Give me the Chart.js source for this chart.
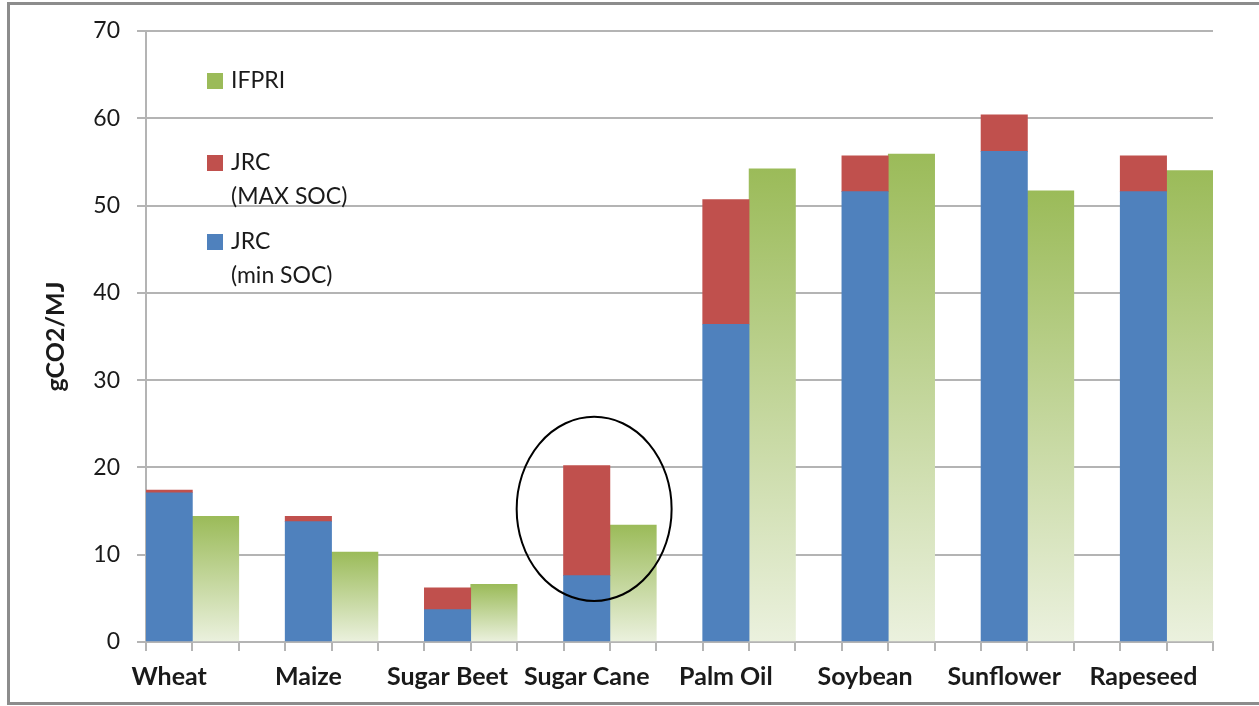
<!DOCTYPE html>
<html>
<head>
<meta charset="utf-8">
<title>gCO2/MJ</title>
<script src="https://cdn.jsdelivr.net/npm/chart.js@4.4.1/dist/chart.umd.min.js"></script>
<style>
  html, body { margin: 0; padding: 0; background: #fff; overflow: hidden; }
  #wrap { position: relative; width: 1259px; height: 706px; }
  #frame { position: absolute; left: 7px; top: 2px; width: 1300px; height: 697px; border: 3px solid #8c8c8c; pointer-events: none; }
</style>
</head>
<body>
<div id="wrap">
  <canvas id="grafico"></canvas>
  <div id="frame"></div>
</div>
<script>
// ---- dados ----
const categorias = ["Wheat", "Maize", "Sugar Beet", "Sugar Cane", "Palm Oil", "Soybean", "Sunflower", "Rapeseed"];
const jrcMin = [17.1, 13.8, 3.7, 7.6, 36.4, 51.6, 56.2, 51.6];
const jrcMax = [17.4, 14.4, 6.2, 20.2, 50.7, 55.7, 60.4, 55.7];
const ifpri  = [14.4, 10.3, 6.6, 13.4, 54.2, 55.9, 51.7, 54.0];
const yMin = 0, yMax = 70, yPasso = 10;

const AZUL = "#4F81BD", VERMELHO = "#C0504D", VERDE = "#9BBB59", VERDE_CLARO = "#EBF1DE";
const CINZA = "#b4b4b4", TEXTO = "#1a1a1a";

// cada categoria ocupa 3 posicoes: JRC, IFPRI, vazio (a ultima sem o vazio)
const posicoes = [];
categorias.forEach((c, i) => {
    posicoes.push(c, "");
    if (i < categorias.length - 1) posicoes.push("");
});

function espalhar(valores, desloc) {
    const arr = posicoes.map(() => null);
    valores.forEach((v, i) => { arr[i * 3 + desloc] = v; });
    return arr;
}

// degrade do IFPRI: verde no topo de cada barra, claro na base
function gradienteVerde(context) {
    const chart = context.chart;
    const { ctx, chartArea, scales } = chart;
    if (!chartArea || context.raw == null) return VERDE;
    const topo = scales.y.getPixelForValue(context.raw);
    const base = scales.y.getPixelForValue(0);
    const g = ctx.createLinearGradient(0, topo, 0, base);
    g.addColorStop(0, VERDE);
    g.addColorStop(1, VERDE_CLARO);
    return g;
}

// legenda dentro da area do grafico
const legendaInterna = {
    id: "legendaInterna",
    afterDraw(chart) {
        const { ctx, chartArea } = chart;
        const ordem = [2, 1, 0];
        const topos = [50, 132, 211];
        ctx.save();
        ctx.font = "23px Lato";
        ctx.textBaseline = "middle";
        ordem.forEach((idx, k) => {
            const ds = chart.data.datasets[idx];
            const y = chartArea.top + topos[k];
            ctx.fillStyle = ds.corLegenda;
            ctx.fillRect(chartArea.left + 61, y - 8, 16, 16);
            ctx.fillStyle = TEXTO;
            ds.label.split("\n").forEach((linha, j) => {
                ctx.fillText(linha, chartArea.left + 85, y + j * 34);
            });
        });
        ctx.restore();
    }
};

// elipse em volta da Sugar Cane
const elipse = { indice: 9.16, valor: 15.25, raioX: 1.67, raioY: 10.55 };
const destaque = {
    id: "destaque",
    afterDatasetsDraw(chart) {
        const { ctx, scales } = chart;
        const larg = scales.x.getPixelForValue(1) - scales.x.getPixelForValue(0);
        const cx = scales.x.getPixelForValue(9) + (elipse.indice - 9) * larg;
        const cy = scales.y.getPixelForValue(elipse.valor);
        const rx = elipse.raioX * larg;
        const ry = scales.y.getPixelForValue(0) - scales.y.getPixelForValue(elipse.raioY);
        ctx.save();
        ctx.beginPath();
        ctx.ellipse(cx, cy, rx, ry, 0, 0, Math.PI * 2);
        ctx.strokeStyle = "#000";
        ctx.lineWidth = 2;
        ctx.stroke();
        ctx.restore();
    }
};

new Chart(document.getElementById("grafico"), {
    type: "bar",
    data: {
        labels: posicoes,
        datasets: [
            { label: "JRC\n(min SOC)", data: espalhar(jrcMin, 0), backgroundColor: AZUL, corLegenda: AZUL },
            { label: "JRC\n(MAX SOC)", data: espalhar(jrcMax.map((v, i) => v - jrcMin[i]), 0), backgroundColor: VERMELHO, corLegenda: VERMELHO },
            { label: "IFPRI", data: espalhar(ifpri, 1), backgroundColor: gradienteVerde, corLegenda: VERDE }
        ]
    },
    options: {
        responsive: true,
        maintainAspectRatio: false,
        animation: false,
        barPercentage: 1,
        categoryPercentage: 1,
        layout: { padding: { left: 0, right: 46, top: 31, bottom: 0 } },
        plugins: {
            legend: { display: false },
            tooltip: { enabled: false }
        },
        scales: {
            x: {
                stacked: true,
                grid: { offset: true, drawOnChartArea: false, color: CINZA, lineWidth: 2, tickLength: 9 },
                border: { color: CINZA, width: 2 },
                ticks: {
                    autoSkip: false, maxRotation: 0, minRotation: 0, padding: 11,
                    color: TEXTO, font: { family: "Lato", size: 25, weight: "bold" }
                },
                afterFit(scale) { scale.height = 64; }
            },
            y: {
                stacked: true,
                min: yMin, max: yMax,
                ticks: { stepSize: yPasso, padding: 17, color: TEXTO, font: { family: "Lato", size: 23 } },
                grid: { color: CINZA, lineWidth: 2, tickLength: 9 },
                border: { color: CINZA, width: 2 },
                title: {
                    display: true, text: "gCO2/MJ", color: TEXTO,
                    font: { family: "Lato", size: 25, weight: "bold" },
                    padding: { top: 41, bottom: 0 }
                },
                afterFit(scale) { scale.width = 146; }
            }
        }
    },
    plugins: [legendaInterna, destaque]
});
</script>
</body>
</html>
